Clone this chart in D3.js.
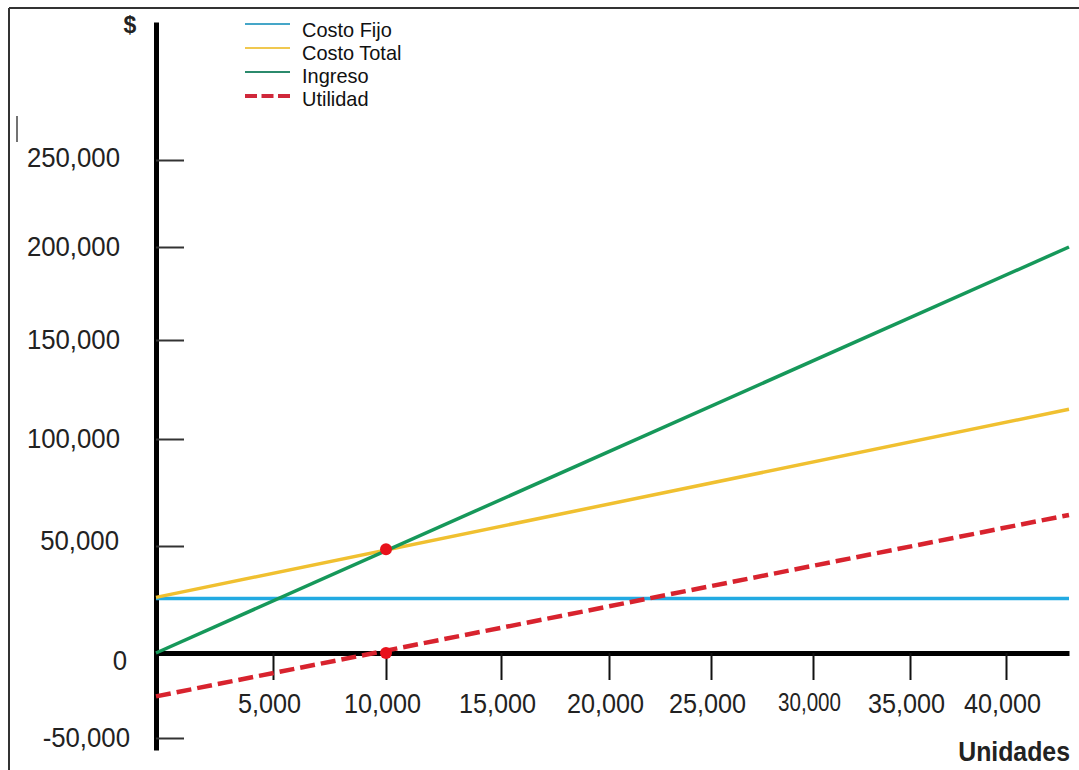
<!DOCTYPE html>
<html><head><meta charset="utf-8">
<script src="https://cdn.jsdelivr.net/npm/d3@7/dist/d3.min.js"></script>
<style>
html,body{margin:0;padding:0;background:#fff;}
svg{display:block;font-family:"Liberation Sans",Arial,sans-serif;}
</style></head><body>
<svg id="chart" width="1079" height="770"></svg>
<script>
// ---------------- DATA ----------------
const units        = [0, 43300];          // Unidades at the two ends of every line
const costoFijo    = [25500, 25500];
const costoTotal   = [26000, 115000];
const ingreso      = [0, 200000];
const utilidad     = [-25500, 64500];
const breakEvenUnits  = [10000, 10000];   // punto de equilibrio markers
const breakEvenValues = [48500, 0];
const xTickValues  = [5000, 10000, 15000, 20000, 25000, 30000, 35000, 40000];
const yTickValues  = [-50000, 0, 50000, 100000, 150000, 200000, 250000];
const seriesNames  = ["Costo Fijo", "Costo Total", "Ingreso", "Utilidad"];
const xTitle = "Unidades";
const yTitle = "$";

// ---------------- STYLE ----------------
const lineColors   = ["#22aae2", "#f0c030", "#16985a", "#d8232e"];
const legendColors = ["#45a6c8", "#f0c850", "#2b8a6c", "#d0283a"];

const svg = d3.select("#chart");

// The original axes are hand drawn with uneven tick spacing, so the scales
// use one stop per tick (polylinear) to keep every tick where it was drawn.
const xDomain = [units[0], ...xTickValues, units[1]];
const x = d3.scaleLinear().domain(xDomain)
  .range([156, 273, 386, 501, 609, 711, 813, 910, 1006, 1069]);
const yDomain = [-57000, ...yTickValues, 329000];
const y = d3.scaleLinear().domain(yDomain)
  .range([750, 738, 653, 546, 439, 340, 247, 160, 22]);

function squeeze(sel, k) {
  sel.each(function () {
    const w = this.getComputedTextLength();
    d3.select(this).attr("textLength", w * k).attr("lengthAdjust", "spacingAndGlyphs");
  });
}

// frame
svg.append("line").attr("x1", 9).attr("x2", 1079).attr("y1", 8).attr("y2", 8)
  .attr("stroke", "#333").attr("stroke-width", 2);
svg.append("line").attr("x1", 9).attr("x2", 9).attr("y1", 8).attr("y2", 770)
  .attr("stroke", "#333").attr("stroke-width", 2);
svg.append("line").attr("x1", 17).attr("x2", 17).attr("y1", 116).attr("y2", 142)
  .attr("stroke", "#444").attr("stroke-width", 1.5);

// ---------------- AXES ----------------
const fmt = d => d3.format(",")(d).replace("\u2212", "-");
const yAxis = d3.axisLeft(y).tickValues(yTickValues).tickFormat(fmt)
  .tickSize(-28).tickSizeOuter(0).tickPadding(36);
const gy = svg.append("g").attr("transform", `translate(${x(0)},0)`).call(yAxis);
gy.select(".domain").attr("stroke", "#000").attr("stroke-width", 5);
gy.selectAll(".tick line").attr("stroke", "#333").attr("stroke-width", 2);
const yLabelShift = new Map([[250000, [0, -2]], [50000, [-1, -5]], [0, [7, 8]], [-50000, [10, 0]]]);
gy.selectAll(".tick text")
  .attr("font-size", 28).attr("fill", "#222")
  .attr("font-family", "'Liberation Sans',Arial,sans-serif")
  .attr("transform", d => { const s = yLabelShift.get(d) || [0, 0]; return `translate(${s[0]},${s[1]})`; });
squeeze(gy.selectAll(".tick text"), 0.92);

const xAxis = d3.axisBottom(x).tickValues(xTickValues).tickFormat(fmt)
  .tickSize(27).tickSizeOuter(0).tickPadding(13);
const gx = svg.append("g").attr("transform", `translate(0,${y(0)})`).call(xAxis);
gx.select(".domain").attr("stroke", "#000").attr("stroke-width", 5);
gx.selectAll(".tick line").attr("stroke", "#111").attr("stroke-width", 2);
gx.selectAll(".tick text")
  .attr("font-size", 28).attr("fill", "#222").attr("dx", -4)
  .attr("font-family", "'Liberation Sans',Arial,sans-serif");
squeeze(gx.selectAll(".tick text").filter(d => d !== 30000), 0.9);
gx.selectAll(".tick text").filter(d => d === 30000)
  .attr("font-size", 26).attr("textLength", 63).attr("lengthAdjust", "spacingAndGlyphs");

svg.append("text").attr("x", 130).attr("y", 33).attr("text-anchor", "middle")
  .attr("font-size", 23).attr("font-weight", "bold").attr("fill", "#222").text(yTitle);
const xt = svg.append("text").attr("x", 1070).attr("y", 761).attr("text-anchor", "end")
  .attr("font-size", 27).attr("font-weight", "bold").attr("fill", "#222").text(xTitle);
squeeze(xt, 0.92);

// ---------------- LINES ----------------
const seriesValues = [costoFijo, costoTotal, ingreso, utilidad];
const line = d3.line().x(d => x(d.u)).y(d => y(d.v));
seriesValues.forEach((vals, i) => {
  const pts = units.map((u, j) => ({u, v: vals[j]}));
  svg.append("path").datum(pts)
    .attr("d", line)
    .attr("fill", "none")
    .attr("stroke", lineColors[i])
    .attr("stroke-width", i === 3 ? 4.5 : 3.5)
    .attr("stroke-dasharray", i === 3 ? "15,6" : null);
});

svg.selectAll("circle.be").data(breakEvenUnits.map((u, j) => ({u, v: breakEvenValues[j]})))
  .join("circle").attr("class", "be")
  .attr("cx", d => x(d.u)).attr("cy", d => y(d.v)).attr("r", 6)
  .attr("fill", "#e8121c");

// ---------------- LEGEND ----------------
const legend = svg.append("g");
seriesNames.forEach((name, i) => {
  const ly = 24 + i * 24;
  legend.append("line").attr("x1", 245).attr("x2", 290).attr("y1", ly).attr("y2", ly)
    .attr("stroke", legendColors[i]).attr("stroke-width", i === 3 ? 4 : 2)
    .attr("stroke-dasharray", i === 3 ? "12,4.5" : null);
  const t = legend.append("text").attr("x", 302).attr("y", 37 + i * 23)
    .attr("font-size", 21).attr("fill", "#111").text(name);
  squeeze(t, 0.95);
});
</script>
</body></html>
